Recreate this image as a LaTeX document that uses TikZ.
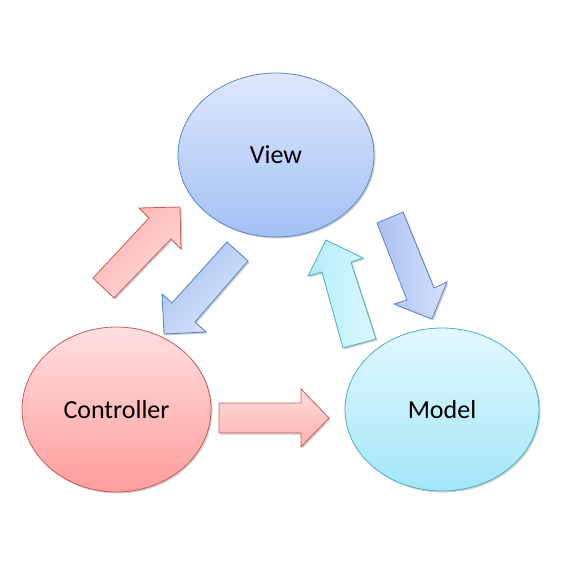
\documentclass[tikz,border=0pt]{standalone}
\usepackage{fontspec}
\setmainfont{Carlito}
\usetikzlibrary{shapes.geometric,shadows}
\definecolor{viewtop}{HTML}{DEE8FC}
\definecolor{viewbot}{HTML}{A3C0F4}
\definecolor{viewedge}{HTML}{5A86C4}
\definecolor{ctrltop}{HTML}{FFDFDF}
\definecolor{ctrlbot}{HTML}{FF9D9D}
\definecolor{ctrledge}{HTML}{C65A58}
\definecolor{modtop}{HTML}{E2F8FE}
\definecolor{modbot}{HTML}{A3E6F8}
\definecolor{modedge}{HTML}{4BACC6}
\definecolor{reddark}{HTML}{FFB0B0}
\definecolor{redlight}{HTML}{FFDCDC}
\definecolor{bluedark}{HTML}{A8C3F4}
\definecolor{bluelight}{HTML}{DCE6FB}
\definecolor{blueedge}{HTML}{4F81BD}
\definecolor{purpedge}{HTML}{5F7FC8}
\definecolor{purpdark}{HTML}{ABC0F2}
\definecolor{purplight}{HTML}{D6E1FA}
\definecolor{cyandark}{HTML}{B2ECF9}
\definecolor{cyanlight}{HTML}{DDF8FD}
\tikzset{
  softshadow/.style={drop shadow={shadow xshift=1.5pt,shadow yshift=-1.5pt,opacity=0.18,fill=black}},
  bubble/.style={ellipse,inner sep=0pt,line width=0.8pt,softshadow,font=\fontsize{26}{31}\selectfont},
  blockarrow/.style={line width=0.8pt,line join=miter,softshadow},
}
\begin{document}
\begin{tikzpicture}[x=1pt,y=-1pt]
\useasboundingbox (0,0) rectangle (562,581);
% ellipses
\node[bubble,draw=viewedge,top color=viewtop,bottom color=viewbot,
      minimum width=196pt,minimum height=164pt] (view) at (276,155) {View};
\node[bubble,draw=ctrledge,top color=ctrltop,bottom color=ctrlbot,
      minimum width=189pt,minimum height=165pt] (ctrl) at (116.5,409.5) {Controller};
\node[bubble,draw=modedge,top color=modtop,bottom color=modbot,
      minimum width=194pt,minimum height=163pt] (model) at (442,409.5) {Model};
% Controller -> View (red diagonal)
\path[blockarrow,draw=ctrledge,top color=reddark,bottom color=redlight,shading angle=45]
  (93,278) -- (149,218) -- (139,208) -- (180,207) -- (181,249) -- (171,239) -- (114,298) -- cycle;
% View -> Controller (blue diagonal)
\path[blockarrow,draw=blueedge,top color=bluedark,bottom color=bluelight,shading angle=45]
  (227,242) -- (172,303) -- (162,294) -- (164,334) -- (206,332) -- (195,322) -- (248,261) -- cycle;
% Model -> View (cyan up)
\path[blockarrow,draw=modedge,left color=cyandark,right color=cyanlight]
  (343,348) -- (322,272) -- (308,276) -- (326,240) -- (363,258) -- (351,262) -- (376,339) -- cycle;
% View -> Model (blue down)
\path[blockarrow,draw=purpedge,left color=purpdark,right color=purplight]
  (377,223) -- (407,300) -- (394,304) -- (432,319) -- (447,282) -- (434,288) -- (403,212) -- cycle;
% Controller -> Model (red right)
\path[blockarrow,draw=ctrledge,top color=redlight,bottom color=reddark]
  (219,403) -- (301,403) -- (301,389) -- (329,418) -- (301,447) -- (301,433) -- (219,433) -- cycle;
\end{tikzpicture}
\end{document}
